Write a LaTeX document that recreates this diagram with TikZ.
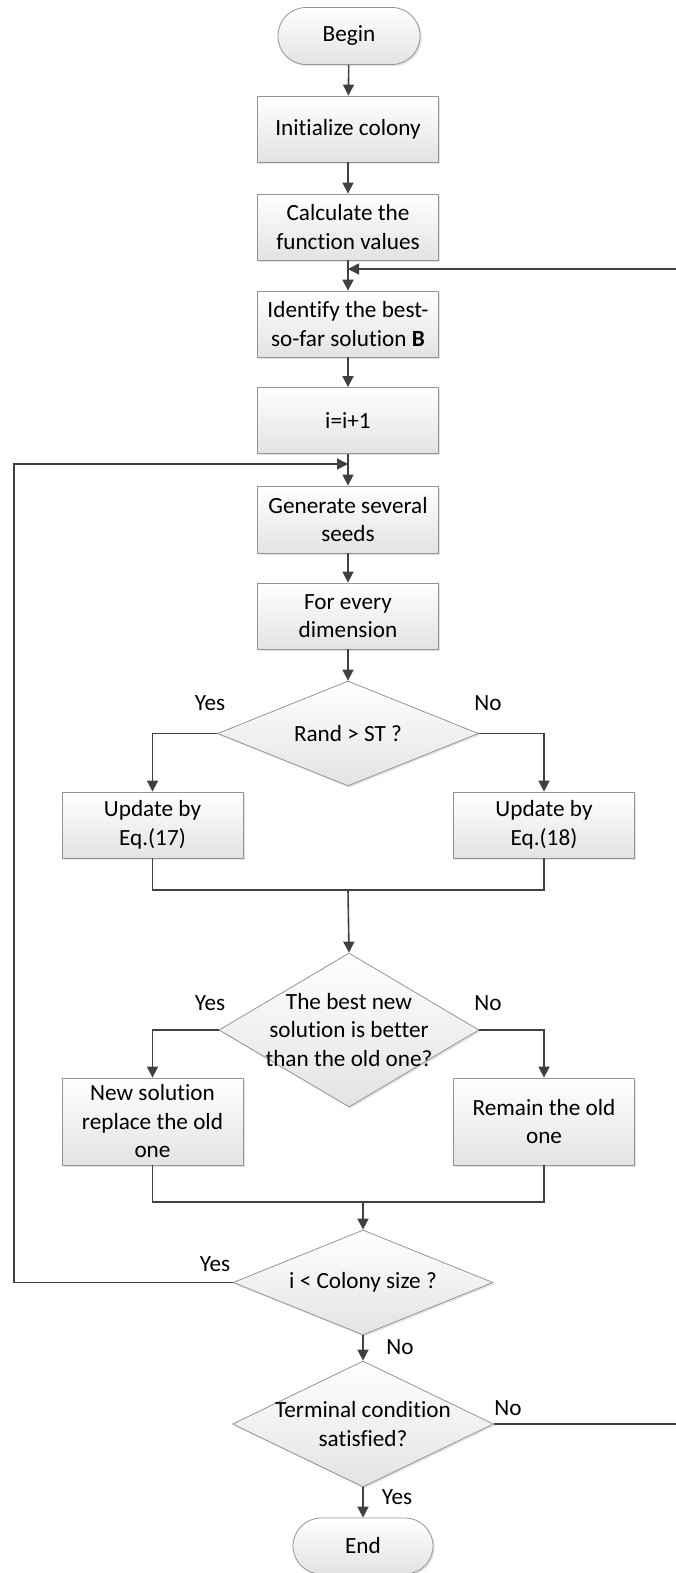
\documentclass[tikz,border=0pt]{standalone}
\usepackage{fontspec}
\setmainfont{Carlito}[Ligatures=NoCommon]
\usetikzlibrary{shapes.geometric,arrows.meta,shadows}

\begin{document}
\begin{tikzpicture}[x=1pt,y=-1pt,
  font=\fontsize{23.2}{28.5}\selectfont,
  shade/.style={draw=black!42, line width=0.8pt, top color=white, bottom color=black!11,
    drop shadow={shadow xshift=1.6pt, shadow yshift=-1.6pt, opacity=0.22}},
  box/.style={shade, rectangle, minimum width=181pt, minimum height=66pt,
    inner sep=0pt, align=center},
  term/.style={box, rounded corners=28pt, minimum width=142pt, minimum height=57pt},
  dia/.style={shade, diamond, inner sep=0pt},
  txt/.style={align=center, inner sep=0pt},
  flow/.style={draw=black!75, line width=1.6pt},
  arr/.style={flow, -{Triangle[length=11pt,width=11pt]}},
  lab/.style={inner sep=0pt},
]
\useasboundingbox (0,0) rectangle (675,1573);

% main column
\node[term] (begin) at (349,36) {Begin};
\node[box] (init) at (348,129) {Initialize colony};
\node[box] (calc) at (348,227) {Calculate the\\function values};
\node[box] (ident) at (348,324) {Identify the best-\\so-far solution \textbf{B}};
\node[box] (inc) at (348,420.5) {i=i+1};
\node[box, minimum height=67pt] (gen) at (348,519.5) {Generate several\\seeds};
\node[box] (forev) at (348,616) {For every\\dimension};

% first decision
\node[dia, minimum width=261pt, minimum height=105pt] (d1) at (348,733.5) {};
\node[txt] (d1t) at (d1.center) {Rand > ST ?};
\node[box] (u17) at (152.5,825) {Update by\\Eq.(17)};
\node[box] (u18) at (544,825) {Update by\\Eq.(18)};
\coordinate (m1) at (348,890);

% second decision
\node[dia, minimum width=260pt, minimum height=154pt] (d2) at (349,1030) {};
\node[txt] (d2t) at (d2.center) {The best new\\solution is better\\than the old one?};
\node[box, minimum height=87pt] (news) at (152.5,1121.5) {New solution\\replace the old\\one};
\node[box, minimum height=87pt] (remain) at (544,1121.5) {Remain the old\\one};
\coordinate (m2) at (363,1202);

% loop tests and end
\node[dia, minimum width=260pt, minimum height=105pt] (d3) at (363,1282.5) {};
\node[txt] (d3t) at (d3.center) {i < Colony size ?};
\node[dia, minimum width=261pt, minimum height=126pt] (d4) at (363,1424) {};
\node[txt] (d4t) at (d4.center) {Terminal condition\\satisfied?};
\node[term, minimum width=140pt, minimum height=56pt] (end) at (363,1546) {End};

% junctions of the two loops
\coordinate (j1) at (348,269);
\coordinate (j2) at (348,464);
\coordinate (lc) at (14,1282.5);
\coordinate (rc) at (684,1424);

% straight flow
\draw[arr] (begin) -- (init);
\draw[arr] (init) -- (calc);
\draw[arr] (calc) -- (ident);
\draw[arr] (ident) -- (inc);
\draw[arr] (inc) -- (gen);
\draw[arr] (gen) -- (forev);
\draw[arr] (forev) -- (d1);

% first branch
\draw[arr] (d1.west) -| (u17.north);
\draw[arr] (d1.east) -| (u18.north);
\draw[flow] (u17.south) |- (m1) -| (u18.south);
\draw[arr] (m1) -- (d2.north);

% second branch
\draw[arr] (d2.west) -| (news.north);
\draw[arr] (d2.east) -| (remain.north);
\draw[flow] (news.south) |- (m2) -| (remain.south);
\draw[arr] (m2) -- (d3.north);

\draw[arr] (d3.south) -- (d4.north);
\draw[arr] (d4.south) -- (end.north);

% loops back (the right-hand return runs along the outer edge)
\draw[arr] (d3.west) -- (lc) |- (j2);
\draw[arr] (d4.east) -- (rc) |- (j1);

% branch labels
\node[lab] (y1) at (210,703) {Yes};
\node[lab] (n1) at (488,703) {No};
\node[lab] (y2) at (210,1003) {Yes};
\node[lab] (n2) at (488,1003) {No};
\node[lab] (y3) at (215,1264) {Yes};
\node[lab] (n3) at (400,1347) {No};
\node[lab] (n4) at (508,1408) {No};
\node[lab] (y4) at (397,1497) {Yes};
\end{tikzpicture}
\end{document}
